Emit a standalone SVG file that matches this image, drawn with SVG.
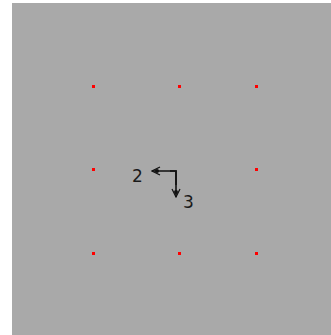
<svg xmlns="http://www.w3.org/2000/svg" width="331" height="335" viewBox="0 0 331 335">
<style>
.dot{fill:#ff0000}
.lbl{font-family:"DejaVu Sans","Liberation Sans",sans-serif;font-size:17px;fill:#1a1a1a}
.conn{fill:none;stroke:#111;stroke-width:1.6}
</style>
<defs>
<marker id="ah" viewBox="0 0 10 10" refX="9" refY="5" markerWidth="10" markerHeight="10" markerUnits="userSpaceOnUse" orient="auto">
<path d="M1,1 L9,5 L1,9" fill="none" stroke="#111" stroke-width="1.2"/>
<circle cx="4" cy="5" r="2" fill="#111"/>
</marker>
</defs>
<rect x="0" y="0" width="331" height="335" fill="#ffffff"/>
<rect x="12" y="3" width="319" height="332" fill="#a9a9a9"/>
<g id="grid">
<rect class="dot" x="92" y="85" width="3" height="3"/>
<rect class="dot" x="178" y="85" width="3" height="3"/>
<rect class="dot" x="255" y="85" width="3" height="3"/>
<rect class="dot" x="92" y="168" width="3" height="3"/>
<rect class="dot" x="255" y="168" width="3" height="3"/>
<rect class="dot" x="92" y="252" width="3" height="3"/>
<rect class="dot" x="178" y="252" width="3" height="3"/>
<rect class="dot" x="255" y="252" width="3" height="3"/>
</g>
<g id="node2"><text class="lbl" x="132" y="182">2</text></g>
<g id="node3"><text class="lbl" x="183" y="208">3</text></g>
<g id="connectors">
<path class="conn" d="M176,185 L176,171 L152,171" marker-end="url(#ah)"/>
<path class="conn" d="M170,171 L176,171 L176,197" marker-end="url(#ah)"/>
</g>
</svg>
